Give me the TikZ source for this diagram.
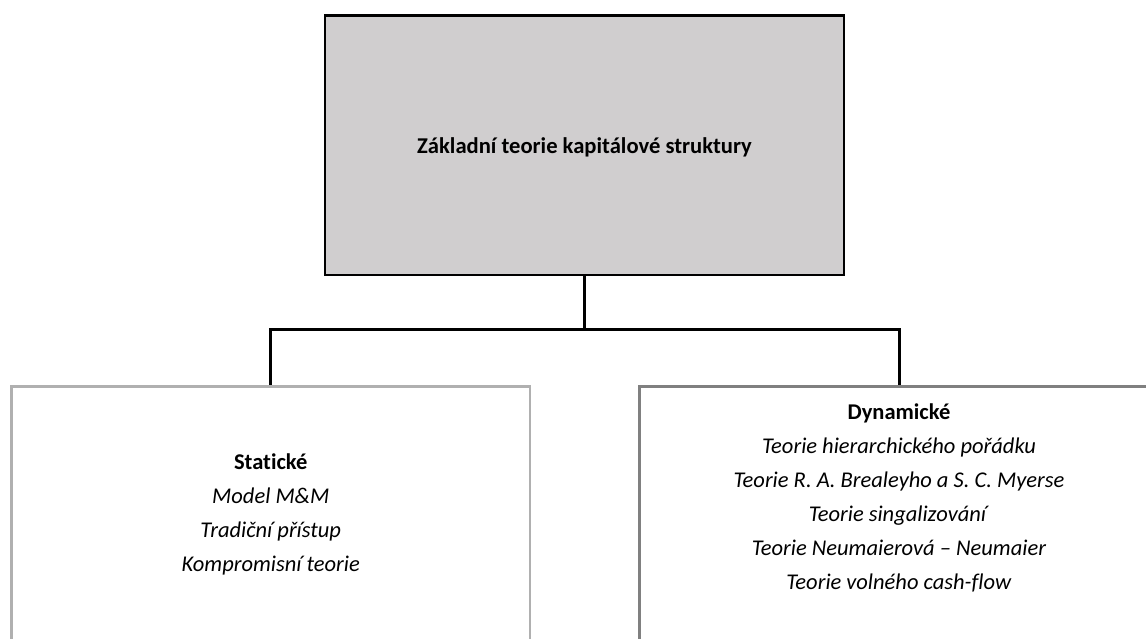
\documentclass[tikz,border=0pt]{standalone}
\usepackage{fontspec}
\setmainfont{Carlito}[Ligatures=CommonOff]
\definecolor{topgray}{RGB}{208,206,207}
\definecolor{leftgray}{RGB}{176,176,176}
\definecolor{rightgray}{RGB}{128,128,128}
\begin{document}
\begin{tikzpicture}[x=1pt,y=-1pt,
  topbox/.style={draw=black, line width=2.6pt, fill=topgray, minimum width=519pt, minimum height=259.5pt, inner sep=0pt},
  subbox/.style={line width=2.6pt, minimum width=518.5pt, minimum height=300pt, inner sep=0pt, anchor=north},
  conn/.style={draw=black, line width=3pt},
  titletext/.style={font=\fontsize{22.6}{26}\selectfont\bfseries, inner sep=0pt},
  listtext/.style={align=center, font=\fontsize{22.5}{34}\selectfont, inner sep=0pt}
]
\useasboundingbox (0,0) rectangle (1146,639);
\clip (0,0) rectangle (1146,639);
\fill[white] (0,0) rectangle (1146,639);

\node[topbox] (top) at (584.5,145.25) {};
\node[titletext] (toptitle) at (584.5,147) {Základní teorie kapitálové struktury};

\node[subbox, draw=leftgray] (left) at (270.75,385) {};
\node[subbox, draw=rightgray] (right) at (899,385) {};

\coordinate (bus) at (584.5,329.5);
\draw[conn] (top.south) -- (top.south |- bus);
\draw[conn] (left.north) -- (left.north |- bus) -- (right.north |- bus) -- (right.north);

\node[listtext] (lefttext) at (270.75,514) {\textbf{Statické}\\ \textit{Model M\&M}\\ \textit{Tradiční přístup}\\ \textit{Kompromisní teorie}};
\node[listtext] (righttext) at (899,497.7) {\textbf{Dynamické}\\ \textit{Teorie hierarchického pořádku}\\ \textit{Teorie R. A. Brealeyho a S. C. Myerse}\\ \textit{Teorie singalizování}\\ \textit{Teorie Neumaierová – Neumaier}\\ \textit{Teorie volného cash-flow}};
\end{tikzpicture}
\end{document}
